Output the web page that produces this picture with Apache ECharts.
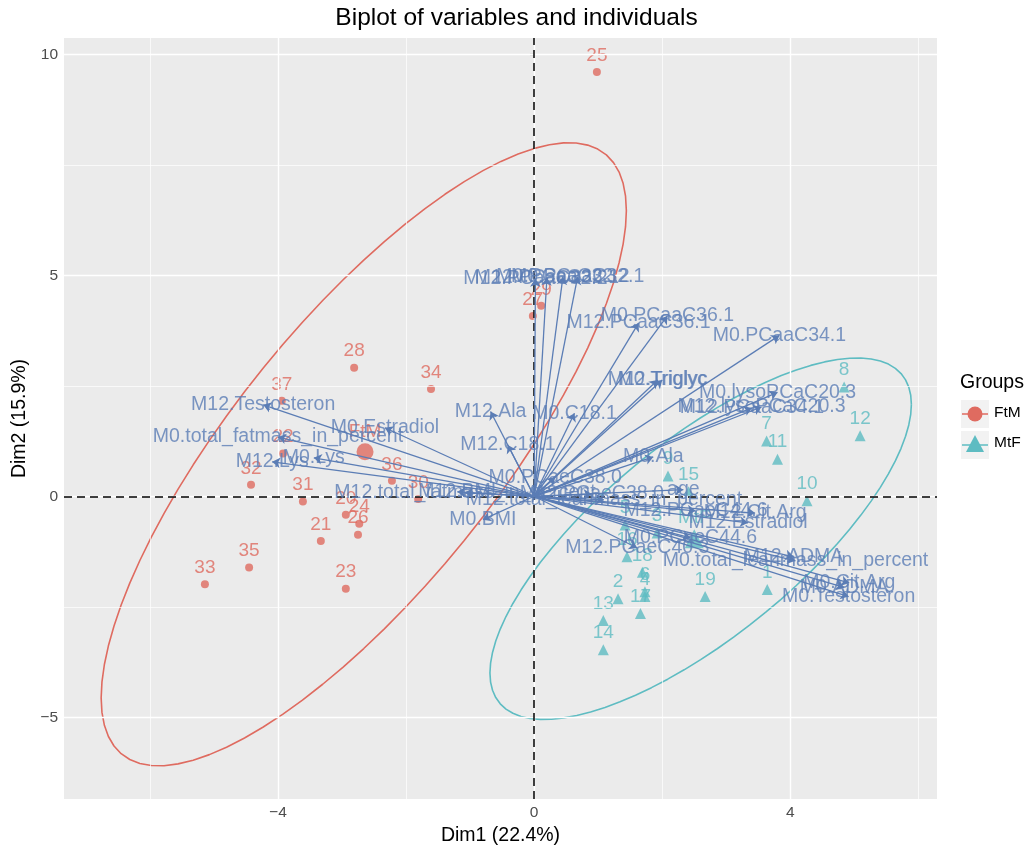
<!DOCTYPE html>
<html><head><meta charset="utf-8">
<script src="https://cdn.jsdelivr.net/npm/echarts@6/dist/echarts.min.js"></script>
<style>html,body{margin:0;padding:0;background:#fff}#c{width:1033px;height:847px}</style>
</head><body><div id="c"></div>
<script>
// ---------- data ----------
const ftmIds = ['20','21','22','23','24','25','26','27','28','29','30','31','32','33','34','35','36','37'];
const ftmX = [-2.94,-3.33,-3.92,-2.94,-2.73,0.98,-2.75,-0.02,-2.81,0.11,-1.81,-3.61,-4.42,-5.14,-1.61,-4.45,-2.22,-3.94];
const ftmY = [-0.42,-1.01,0.97,-2.09,-0.62,9.60,-0.87,4.08,2.91,4.31,-0.06,-0.12,0.26,-1.99,2.43,-1.61,0.35,2.16];

const mtfIds = ['1','2','3','4','5','6','7','8','9','10','11','12','13','14','15','16','17','18','19'];
const mtfX = [3.64,1.31,1.92,1.73,1.42,1.73,3.63,4.84,2.09,4.26,3.80,5.09,1.08,1.08,2.41,1.45,1.66,1.69,2.67];
const mtfY = [-2.11,-2.32,-0.83,-2.27,-0.65,-2.16,1.25,2.47,0.46,-0.10,0.84,1.37,-2.81,-3.47,0.10,-1.37,-2.65,-1.72,-2.27];

const groupNames = ['FtM','MtF'];
const centroidX = [-2.64, 2.50];
const centroidY = [1.01, -0.96];

// confidence ellipses: centre, half-width, half-height, xy spread
const ellCx = [-2.66, 2.60];
const ellCy = [0.95, -0.96];
const ellW = [4.10, 3.29];
const ellH = [7.05, 4.09];
const ellSxy = [22.6, 10.0];

const varNames = ['M12.PCaaC32.2','M12.PCaaC32.1','M0.PCaaC32.2','M0.PCaaC32.1','M0.PCaaC36.1','M12.PCaaC36.1',
  'M0.PCaaC34.1','M12.Triglyc','M0.Triglyc','M0.lysoPCaC20.3','M12.lysoPCaC20.3','M12.PCaaC34.1',
  'M12.Ala','M0.C18.1','M12.C18.1','M0.Estradiol','M12.Testosteron','M0.total_fatmass_in_percent',
  'M12.Lys','M0.Lys','M12.total_fatmass_in_percent','M0.PCaeC38.0','M0.BMI','M0.Ala','age',
  'M12.total_leanmass_in_percent','M12.PCaeC44.6','M12.Cit.Arg','M12.Estradiol','M0.PCaeC44.6',
  'M12.PCaeC40.3','M0.total_leanmass_in_percent','M12.ADMA','M0.Cit.Arg','M0.ADMA','M0.Testosteron',
  'M12.PCaeC38.0','M12.BMI'];
const varX = [0.02,0.20,0.45,0.68,2.08,1.63,3.83,1.93,2.00,3.80,3.55,3.40,-0.68,0.63,-0.41,-2.33,-4.23,-4.00,
  -4.09,-3.44,-1.08,0.33,-0.80,1.86,2.33,1.09,2.52,3.45,3.34,2.44,1.61,4.08,4.05,4.92,4.84,4.91,0.90,-1.20];
const varY = [4.92,4.95,4.97,4.97,4.08,3.92,3.64,2.63,2.63,2.35,2.02,2.00,1.92,1.88,1.16,1.55,2.07,1.34,
  0.78,0.87,0.08,0.43,-0.53,0.89,0.15,-0.08,-0.33,-0.38,-0.60,-0.94,-1.17,-1.46,-1.37,-1.96,-2.06,-2.27,0.05,0.10];

const xTicks = [-4, 0, 4];
const yTicks = [-5, 0, 5, 10];
const xMinor = [-6, -2, 2, 6];
const yMinor = [-2.5, 2.5, 7.5];

// ---------- styling ----------
const RED = '#DF6B60', TEAL = '#5EBCC2', BLUE = '#5B7DB5';
const FONT = '"Liberation Sans", Arial, Helvetica, sans-serif';
const fmt = v => (v < 0 ? '\u2212' + Math.abs(v) : String(v));

function ellipsePts(i) {
  const b = ellSxy[i] / ellW[i];
  const d = Math.sqrt(ellH[i] * ellH[i] - b * b);
  const pts = [];
  for (let k = 0; k <= 80; k++) {
    const t = 2 * Math.PI * k / 80;
    pts.push([ellCx[i] + ellW[i] * Math.cos(t), ellCy[i] + b * Math.cos(t) + d * Math.sin(t)]);
  }
  return pts;
}

const chart = echarts.init(document.getElementById('c'), null, {renderer: 'canvas'});

const gridLines = [];
xTicks.forEach(v => gridLines.push({xAxis: v, lineStyle: {color: '#fff', width: 1.4, type: 'solid'}}));
yTicks.forEach(v => gridLines.push({yAxis: v, lineStyle: {color: '#fff', width: 1.4, type: 'solid'}}));
xMinor.forEach(v => gridLines.push({xAxis: v, lineStyle: {color: '#fff', width: 0.7, type: 'solid'}}));
yMinor.forEach(v => gridLines.push({yAxis: v, lineStyle: {color: '#fff', width: 0.7, type: 'solid'}}));

const option = {
  animation: false,
  backgroundColor: '#fff',
  textStyle: {fontFamily: FONT},
  title: {
    text: 'Biplot of variables and individuals',
    left: 'center', top: 1,
    padding: [5, 33, 5, 0],
    textStyle: {fontSize: 24.5, fontWeight: 'normal', color: '#000', fontFamily: FONT}
  },
  grid: {left: 64, right: 96, top: 38, bottom: 48, show: true, backgroundColor: '#EBEBEB', borderWidth: 0,
         containLabel: false, outerBoundsMode: 'none'},
  xAxis: {
    type: 'value', min: -7.34, max: 6.29,
    name: 'Dim1 (22.4%)', nameLocation: 'middle', nameGap: 24,
    nameTextStyle: {fontSize: 19.5, color: '#000', fontFamily: FONT},
    axisLine: {show: false},
    axisTick: {show: true, customValues: xTicks, length: 4, lineStyle: {color: '#333', width: 1.2}},
    axisLabel: {customValues: xTicks, formatter: fmt, fontSize: 15.5, color: '#4D4D4D', margin: 6, fontFamily: FONT},
    splitLine: {show: false}
  },
  yAxis: {
    type: 'value', min: -6.85, max: 10.37,
    name: 'Dim2 (15.9%)', nameLocation: 'middle', nameGap: 34,
    nameTextStyle: {fontSize: 19.5, color: '#000', fontFamily: FONT},
    axisLine: {show: false},
    axisTick: {show: true, customValues: yTicks, length: 4, lineStyle: {color: '#333', width: 1.2}},
    axisLabel: {customValues: yTicks, formatter: fmt, fontSize: 15.5, color: '#4D4D4D', margin: 6, fontFamily: FONT},
    splitLine: {show: false}
  },
  series: [
    { // panel grid lines + zero reference lines
      type: 'scatter', data: [], z: 1, silent: true,
      markLine: {silent: true, symbol: ['none', 'none'], label: {show: false}, animation: false,
        data: gridLines.concat([
          {xAxis: 0, lineStyle: {color: '#000', width: 1.5, type: [8, 5]}},
          {yAxis: 0, lineStyle: {color: '#000', width: 1.5, type: [8, 5]}}
        ])}
    },
    { // FtM individuals
      name: 'FtM', type: 'scatter', z: 3, symbol: 'circle', symbolSize: 8,
      itemStyle: {color: RED},
      label: {show: true, position: 'top', distance: 3, formatter: p => p.name, color: RED, fontSize: 19, fontFamily: FONT},
      data: ftmIds.map((id, i) => ({name: id, value: [ftmX[i], ftmY[i]]}))
    },
    { // MtF individuals
      name: 'MtF', type: 'scatter', z: 3, symbol: 'triangle', symbolSize: 11,
      itemStyle: {color: TEAL},
      label: {show: true, position: 'top', distance: 2, formatter: p => p.name, color: TEAL, fontSize: 19, fontFamily: FONT},
      data: mtfIds.map((id, i) => ({name: id, value: [mtfX[i], mtfY[i]]}))
    },
    { // group centroids
      type: 'scatter', z: 3,
      label: {show: true, position: 'top', distance: 2, formatter: p => p.name, fontSize: 19, fontFamily: FONT},
      data: groupNames.map((g, i) => ({
        name: g, value: [centroidX[i], centroidY[i]],
        symbol: i === 0 ? 'circle' : 'triangle', symbolSize: i === 0 ? 17 : 19,
        itemStyle: {color: i === 0 ? RED : TEAL},
        label: {color: i === 0 ? RED : TEAL}
      }))
    },
    { type: 'line', z: 4, showSymbol: false, silent: true, data: ellipsePts(0), lineStyle: {color: RED, width: 1.6} },
    { type: 'line', z: 4, showSymbol: false, silent: true, data: ellipsePts(1), lineStyle: {color: TEAL, width: 1.6} },
    { // variable arrows
      type: 'lines', coordinateSystem: 'cartesian2d', z: 5, silent: true,
      symbol: ['none', 'arrow'], symbolSize: [0, 8],
      lineStyle: {color: BLUE, width: 1.3, opacity: 1, curveness: 0},
      data: varNames.map((n, i) => ({coords: [[0, 0], [varX[i], varY[i]]]}))
    },
    { // variable labels
      type: 'scatter', z: 6, symbolSize: 0, silent: true,
      label: {show: true, position: 'inside', formatter: p => p.name, color: BLUE, fontSize: 19.5, fontFamily: FONT},
      data: varNames.map((n, i) => ({name: n, value: [varX[i], varY[i]]}))
    }
  ],
  graphic: [
    {type: 'text', left: 960, top: 373, style: {text: 'Groups', fontSize: 19.5, fill: '#000', fontFamily: FONT}},
    {type: 'rect', shape: {x: 961, y: 400, width: 28, height: 28}, style: {fill: '#F2F2F2'}},
    {type: 'line', shape: {x1: 962, y1: 414, x2: 988, y2: 414}, style: {stroke: RED, lineWidth: 1.5}},
    {type: 'circle', shape: {cx: 975, cy: 414, r: 7.5}, style: {fill: RED}},
    {type: 'text', left: 994, top: 405, style: {text: 'FtM', fontSize: 15.5, fill: '#000', fontFamily: FONT}},
    {type: 'rect', shape: {x: 961, y: 431, width: 28, height: 28}, style: {fill: '#F2F2F2'}},
    {type: 'line', shape: {x1: 962, y1: 445, x2: 988, y2: 445}, style: {stroke: TEAL, lineWidth: 1.5}},
    {type: 'polygon', shape: {points: [[975, 435], [984, 452], [966, 452]]}, style: {fill: TEAL}},
    {type: 'text', left: 994, top: 435, style: {text: 'MtF', fontSize: 15.5, fill: '#000', fontFamily: FONT}}
  ]
};
chart.setOption(option);
</script>
</body></html>
